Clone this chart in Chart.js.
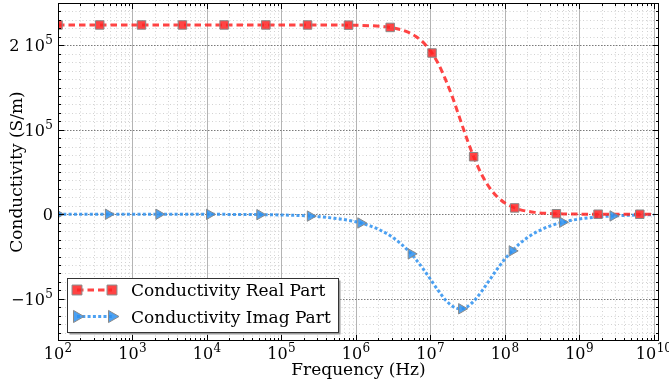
<!DOCTYPE html>
<html>
<head>
<meta charset="utf-8">
<script src="https://cdn.jsdelivr.net/npm/chart.js@4"></script>
<style>
html, body { margin: 0; padding: 0; background: #fff; }
#wrap { width: 669px; height: 386px; }
</style>
</head>
<body>
<div id="wrap"><canvas id="grafico" width="669" height="386"></canvas></div>
<script>
// Dados (frequência em Hz, condutividade em S/m)
const freqLine = [1e2, 1e3, 1e4, 3.16e4, 1e5, 3.16e5, 1e6, 1.58e6, 2.51e6, 3.98e6, 5.01e6, 6.31e6, 7.94e6,
  1e7, 1.26e7, 1.58e7, 2.0e7, 2.51e7, 3.16e7, 3.98e7, 5.01e7, 6.31e7, 7.94e7,
  1e8, 1.26e8, 1.58e8, 2.51e8, 3.98e8, 6.31e8, 1e9, 1.78e9, 3.16e9, 5.62e9, 1e10];
const realLine = [224000, 224000, 224000, 224000, 224000, 223960, 223650, 223110, 221780, 218510, 215430, 210700, 203640,
  193350, 179030, 160220, 137340, 112000, 86660, 63780, 44970, 30650, 20360,
  13300, 8580, 5490, 2220, 890, 350, 140, 45, 14, 4, 1];
const imagLine = [-1, -9, -89, -280, -890, -2820, -8900, -14080, -22180, -34630, -42980, -52930, -64390,
  -76970, -89730, -101100, -109090, -112000, -109090, -101090, -89730, -76980, -64390,
  -52930, -42980, -34630, -22180, -14080, -8900, -5620, -3160, -1780, -1000, -560];

// Marcadores
const freqMarkReal = [1.00e2, 3.63e2, 1.32e3, 4.68e3, 1.70e4, 6.17e4, 2.24e5, 7.94e5, 2.88e6, 1.05e7, 3.80e7, 1.35e8, 4.90e8, 1.78e9, 6.46e9];
const realMark = [224000, 224000, 224000, 224000, 224000, 224000, 223980, 223780, 221090, 190830, 68070, 7510, 590, 45, 3];
const freqMarkImag = [1.00e2, 4.75e2, 2.26e3, 1.08e4, 5.12e4, 2.44e5, 1.16e6, 5.51e6, 2.62e7, 1.25e8, 5.93e8, 2.82e9];
const imagMark = [-1, -4, -20, -96, -456, -2173, -10311, -46869, -111893, -43351, -9474, -1991];

// Eixos
const xTickValues = [1e2, 1e3, 1e4, 1e5, 1e6, 1e7, 1e8, 1e9, 1e10];
const xTickLabels = [['10', '2'], ['10', '3'], ['10', '4'], ['10', '5'], ['10', '6'], ['10', '7'], ['10', '8'], ['10', '9'], ['10', '10']];
const yTickValues = [-100000, 0, 100000, 200000];
const yTickLabels = [['\u221210', '5'], ['0', ''], ['10', '5'], ['2 10', '5']];
const seriesNames = ['Conductivity Real Part', 'Conductivity Imag Part'];
const xTitle = 'Frequency (Hz)';
const yTitle = 'Conductivity (S/m)';

const vermelho = 'rgba(255, 35, 35, 0.85)';
const azul = 'rgba(45, 145, 240, 0.85)';
const borda = '#8a8a8a';
const fonte = '"DejaVu Serif", serif';

const toPoints = (xs, ys) => xs.map((v, i) => ({ x: v, y: ys[i] }));

const linha = (ctx, x1, y1, x2, y2) => {
  ctx.beginPath();
  ctx.moveTo(x1, y1);
  ctx.lineTo(x2, y2);
  ctx.stroke();
};

// Texto com expoente (10^n)
const drawPow = (ctx, base, exp, x, y, align) => {
  ctx.font = '16px ' + fonte;
  const wb = ctx.measureText(base).width;
  ctx.font = '12px ' + fonte;
  const we = exp ? ctx.measureText(exp).width + 0.5 : 0;
  const total = wb + we;
  let x0 = x;
  if (align === 'center') x0 = x - total / 2;
  if (align === 'right') x0 = x - total;
  ctx.textAlign = 'left';
  ctx.textBaseline = 'alphabetic';
  ctx.font = '16px ' + fonte;
  ctx.fillText(base, x0, y);
  if (exp) {
    ctx.font = '12px ' + fonte;
    ctx.fillText(exp, x0 + wb + 0.5, y - 7);
  }
};

const xMinor = [];
xTickValues.slice(0, -1).forEach(d => { for (let m = 2; m <= 9; m++) xMinor.push(d * m); });
const yMinor = [];
for (let v = -140000; v <= 240000; v += 10000) if (v % 100000 !== 0) yMinor.push(v);

const fundo = {
  id: 'fundo',
  beforeDatasetsDraw(chart) {
    const { ctx, chartArea: a, scales: { x, y } } = chart;
    ctx.save();
    ctx.lineWidth = 1;
    // grade secundária pontilhada
    ctx.strokeStyle = '#d2d2d2';
    ctx.setLineDash([1, 2.5]);
    xMinor.forEach(v => { const px = Math.round(x.getPixelForValue(v)) + 0.5; linha(ctx, px, a.top, px, a.bottom); });
    yMinor.forEach(v => { const py = Math.round(y.getPixelForValue(v)) + 0.5; linha(ctx, a.left, py, a.right, py); });
    // grade principal
    ctx.setLineDash([]);
    ctx.strokeStyle = '#b4b4b4';
    xTickValues.forEach(v => { const px = Math.round(x.getPixelForValue(v)) + 0.5; linha(ctx, px, a.top, px, a.bottom); });
    ctx.strokeStyle = '#7a7a7a';
    ctx.setLineDash([1.5, 1.5]);
    yTickValues.forEach(v => { const py = Math.round(y.getPixelForValue(v)) + 0.5; linha(ctx, a.left, py, a.right, py); });
    ctx.restore();
  },
  afterDatasetsDraw(chart) {
    const { ctx, chartArea: a, scales: { x, y } } = chart;
    ctx.save();
    ctx.setLineDash([]);
    ctx.strokeStyle = '#000';
    ctx.lineWidth = 1;
    ctx.strokeRect(Math.round(a.left) + 0.5, Math.round(a.top) + 0.5, Math.round(a.right - a.left) - 1, Math.round(a.bottom - a.top) - 1);

    // marcas dos eixos (para dentro, nos 4 lados)
    const marcaX = (v, len) => {
      const px = Math.round(x.getPixelForValue(v)) + 0.5;
      linha(ctx, px, a.bottom, px, a.bottom - len);
      linha(ctx, px, a.top, px, a.top + len);
    };
    const marcaY = (v, len) => {
      const py = Math.round(y.getPixelForValue(v)) + 0.5;
      linha(ctx, a.left, py, a.left + len, py);
      linha(ctx, a.right, py, a.right - len, py);
    };
    xMinor.forEach(v => marcaX(v, 3));
    xTickValues.forEach(v => marcaX(v, 6));
    yMinor.forEach(v => marcaY(v, 3));
    yTickValues.forEach(v => marcaY(v, 6));

    // rótulos
    ctx.fillStyle = '#000';
    xTickValues.forEach((v, i) => {
      drawPow(ctx, xTickLabels[i][0], xTickLabels[i][1], x.getPixelForValue(v), a.bottom + 18, 'center');
    });
    yTickValues.forEach((v, i) => {
      drawPow(ctx, yTickLabels[i][0], yTickLabels[i][1], a.left - 5, y.getPixelForValue(v) + 6, 'right');
    });

    // títulos dos eixos
    ctx.font = '17px ' + fonte;
    ctx.textAlign = 'center';
    ctx.textBaseline = 'alphabetic';
    ctx.fillText(xTitle, (a.left + a.right) / 2, 375);
    ctx.save();
    ctx.translate(18, (a.top + a.bottom) / 2);
    ctx.rotate(-Math.PI / 2);
    ctx.textBaseline = 'middle';
    ctx.fillText(yTitle, 0, 0);
    ctx.restore();

    // legenda
    const lx = 67.5, ly = 278.5, lw = 271, lh = 54;
    ctx.fillStyle = '#9a9a9a';
    ctx.fillRect(lx + 2, ly + 2, lw, lh);
    ctx.fillStyle = '#fff';
    ctx.fillRect(lx, ly, lw, lh);
    ctx.strokeStyle = '#333';
    ctx.strokeRect(lx, ly, lw, lh);

    const entradas = [
      { cor: vermelho, dash: [6.5, 4], estilo: 'rect', raio: 7, rot: 0, y: 290 },
      { cor: azul, dash: [3, 2.3], estilo: 'triangle', raio: 7, rot: 90, y: 316.5 }
    ];
    entradas.forEach((e, i) => {
      ctx.strokeStyle = e.cor;
      ctx.lineWidth = 3;
      ctx.setLineDash(e.dash);
      linha(ctx, 77, e.y, 112, e.y);
      ctx.setLineDash([]);
      ctx.fillStyle = e.cor;
      ctx.strokeStyle = borda;
      ctx.lineWidth = 1;
      [77, 112].forEach(px => {
        Chart.helpers.drawPoint(ctx, { pointStyle: e.estilo, radius: e.raio, rotation: e.rot, borderWidth: 1 }, px, e.y);
      });
      ctx.fillStyle = '#000';
      ctx.font = '17px ' + fonte;
      ctx.textAlign = 'left';
      ctx.textBaseline = 'alphabetic';
      ctx.fillText(seriesNames[i], 131, e.y + 6);
    });
    ctx.restore();
  }
};

new Chart(document.getElementById('grafico'), {
  type: 'scatter',
  data: {
    datasets: [
      {
        label: seriesNames[0] + ' marcadores',
        data: toPoints(freqMarkReal, realMark),
        showLine: false,
        pointStyle: 'rect',
        pointRadius: 6,
        backgroundColor: vermelho,
        borderColor: borda,
        borderWidth: 1
      },
      {
        label: seriesNames[1] + ' marcadores',
        data: toPoints(freqMarkImag, imagMark),
        showLine: false,
        pointStyle: 'triangle',
        rotation: 90,
        pointRadius: 6,
        backgroundColor: azul,
        borderColor: borda,
        borderWidth: 1
      },
      {
        label: seriesNames[0],
        data: toPoints(freqLine, realLine),
        showLine: true,
        borderColor: vermelho,
        borderWidth: 3,
        borderDash: [6.5, 4],
        cubicInterpolationMode: 'monotone',
        pointRadius: 0
      },
      {
        label: seriesNames[1],
        data: toPoints(freqLine, imagLine),
        showLine: true,
        borderColor: azul,
        borderWidth: 3,
        borderDash: [3, 2.3],
        cubicInterpolationMode: 'monotone',
        pointRadius: 0
      }
    ]
  },
  options: {
    responsive: false,
    devicePixelRatio: 1,
    animation: false,
    layout: { autoPadding: false, padding: { top: 3, right: 10, bottom: 0, left: 0 } },
    plugins: { legend: { display: false }, tooltip: { enabled: false }, title: { display: false } },
    scales: {
      x: {
        type: 'logarithmic',
        min: 100,
        max: 1.17e10,
        ticks: { display: false },
        grid: { display: false },
        border: { display: false },
        afterFit: s => { s.height = 45; s.paddingLeft = 0; s.paddingRight = 0; }
      },
      y: {
        type: 'linear',
        min: -150000,
        max: 250000,
        ticks: { display: false },
        grid: { display: false },
        border: { display: false },
        afterFit: s => { s.width = 58; s.paddingTop = 0; s.paddingBottom = 0; }
      }
    }
  },
  plugins: [fundo]
});
</script>
</body>
</html>
